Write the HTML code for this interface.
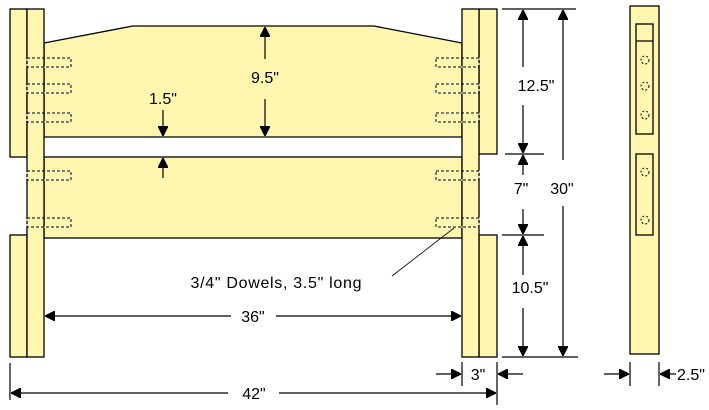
<!DOCTYPE html>
<html><head><style>
html,body{margin:0;padding:0;background:#fff;}
svg{display:block;}
text{font-family:"Liberation Sans",sans-serif;font-size:16px;fill:#000;}
</style></head><body>
<svg width="709" height="410" viewBox="0 0 709 410" xmlns="http://www.w3.org/2000/svg">
<defs>
<marker id="a" viewBox="0 0 10 10" refX="10" refY="5" markerWidth="10" markerHeight="10" markerUnits="userSpaceOnUse" orient="auto">
<path d="M0,0 L10,5 L0,10 M4,3 L10,5 L4,7 Z" fill="#000" stroke="#000" stroke-width="1.2"/>
</marker>
</defs>
<g stroke="#000" stroke-width="1.3" fill="#fff7b0">
<polygon points="44,43 133,26 374,26 462,43 462,137 44,137"/>
<rect x="44" y="157" width="418" height="81"/>
<rect x="10" y="9" width="17" height="148"/>
<rect x="10" y="235" width="17" height="122"/>
<rect x="479" y="9" width="18" height="145"/>
<rect x="479" y="235" width="18" height="122"/>
<rect x="27" y="9" width="17" height="348"/>
<rect x="462" y="9" width="17" height="348"/>
<rect x="630" y="6" width="29" height="348"/>
<rect x="636" y="24" width="17" height="110"/>
<line x1="636" y1="41" x2="653" y2="41"/>
<rect x="636" y="154" width="17" height="81"/>
</g>
<g id="d" fill="none" stroke-width="1">
<g stroke="#fff">
<rect x="27" y="58" width="44" height="9"/><rect x="27" y="84" width="44" height="9"/><rect x="27" y="113" width="44" height="9"/><rect x="27" y="171" width="44" height="9"/><rect x="27" y="218" width="44" height="9"/>
<rect x="436" y="58" width="43" height="9"/><rect x="436" y="84" width="43" height="9"/><rect x="436" y="113" width="43" height="9"/><rect x="436" y="171" width="43" height="9"/><rect x="436" y="218" width="43" height="9"/>
</g>
<g stroke="#000" stroke-dasharray="3,2">
<rect x="27" y="58" width="44" height="9"/><rect x="27" y="84" width="44" height="9"/><rect x="27" y="113" width="44" height="9"/><rect x="27" y="171" width="44" height="9"/><rect x="27" y="218" width="44" height="9"/>
<rect x="436" y="58" width="43" height="9"/><rect x="436" y="84" width="43" height="9"/><rect x="436" y="113" width="43" height="9"/><rect x="436" y="171" width="43" height="9"/><rect x="436" y="218" width="43" height="9"/>
</g>
<g stroke="#000" stroke-dasharray="2,2">
<circle cx="645" cy="60" r="4"/><circle cx="645" cy="86" r="4"/><circle cx="645" cy="115" r="4"/>
<circle cx="645" cy="172" r="4"/><circle cx="645" cy="220" r="4"/>
</g>
</g>
<g stroke="#000" stroke-width="1.2" fill="none">
<line x1="502" y1="9" x2="576" y2="9"/>
<line x1="505" y1="154" x2="544" y2="154"/>
<line x1="502" y1="235" x2="544" y2="235"/>
<line x1="502" y1="357" x2="578" y2="357"/>
<line x1="523" y1="67" x2="523" y2="10" marker-end="url(#a)"/>
<line x1="523" y1="105" x2="523" y2="153" marker-end="url(#a)"/>
<line x1="523" y1="175" x2="523" y2="155" marker-end="url(#a)"/>
<line x1="523" y1="209" x2="523" y2="234" marker-end="url(#a)"/>
<line x1="523" y1="275" x2="523" y2="236" marker-end="url(#a)"/>
<line x1="523" y1="308" x2="523" y2="356" marker-end="url(#a)"/>
<line x1="563" y1="160" x2="563" y2="10" marker-end="url(#a)"/>
<line x1="563" y1="206" x2="563" y2="356" marker-end="url(#a)"/>
<line x1="265" y1="59" x2="265" y2="27" marker-end="url(#a)"/>
<line x1="265" y1="99" x2="265" y2="136" marker-end="url(#a)"/>
<line x1="163" y1="110" x2="163" y2="136" marker-end="url(#a)"/>
<line x1="163" y1="178" x2="163" y2="158" marker-end="url(#a)"/>
<line x1="231" y1="316" x2="45" y2="316" marker-end="url(#a)"/>
<line x1="276" y1="316" x2="461" y2="316" marker-end="url(#a)"/>
<line x1="228" y1="393" x2="11" y2="393" marker-end="url(#a)"/>
<line x1="279" y1="393" x2="496" y2="393" marker-end="url(#a)"/>
<line x1="10" y1="363" x2="10" y2="400"/>
<line x1="497" y1="362" x2="497" y2="405"/>
<line x1="462" y1="362" x2="462" y2="386"/>
<line x1="436" y1="374" x2="461" y2="374" marker-end="url(#a)"/>
<line x1="523" y1="374" x2="498" y2="374" marker-end="url(#a)"/>
<line x1="630" y1="362" x2="630" y2="386"/>
<line x1="659" y1="362" x2="659" y2="386"/>
<line x1="604" y1="374" x2="629" y2="374" marker-end="url(#a)"/>
<line x1="676" y1="374" x2="660" y2="374" marker-end="url(#a)"/>
<line x1="392" y1="276" x2="454" y2="228" stroke-width="0.8"/>
</g>
<text x="536" y="91" text-anchor="middle">12.5"</text>
<text x="521" y="194" text-anchor="middle">7"</text>
<text x="562" y="194" text-anchor="middle">30"</text>
<text x="530" y="293" text-anchor="middle">10.5"</text>
<text x="265" y="83" text-anchor="middle">9.5"</text>
<text x="163" y="104" text-anchor="middle">1.5"</text>
<text x="276" y="288" text-anchor="middle" textLength="171">3/4" Dowels, 3.5" long</text>
<text x="253" y="322" text-anchor="middle">36"</text>
<text x="254" y="399" text-anchor="middle">42"</text>
<text x="478" y="380" text-anchor="middle">3"</text>
<text x="677" y="380">2.5"</text>
</svg>
</body></html>
